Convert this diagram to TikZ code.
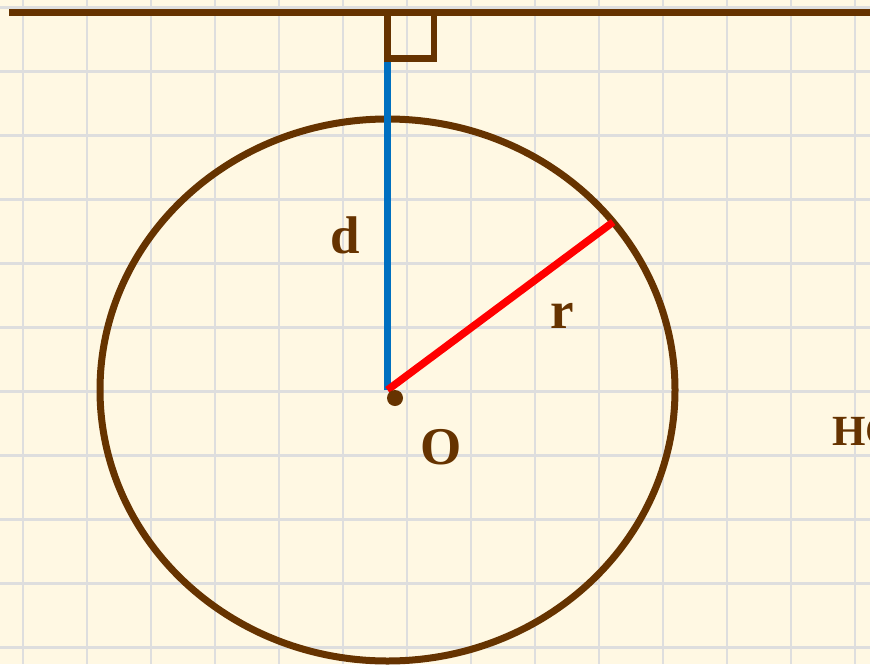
\documentclass[tikz,border=0pt]{standalone}
\usepackage{fontspec}
\setmainfont{Liberation Serif}
\usetikzlibrary{calc}
\definecolor{paper}{HTML}{FFF8E3}
\definecolor{gridline}{HTML}{DEDEDE}
\definecolor{brownline}{HTML}{663300}
\definecolor{perpline}{HTML}{0070C0}
\definecolor{radline}{HTML}{FF0000}

\begin{document}
\begin{tikzpicture}[x=1pt,y=-1pt]
\fill[paper] (0,0) rectangle (870,664);
\useasboundingbox (0,0) rectangle (870,664);
% grid
\foreach \gx in {23,87,...,855} \draw[gridline,line width=2.5pt] (\gx,0) -- (\gx,664);
\foreach \gy in {7.5,71.5,...,647.5} \draw[gridline,line width=2.5pt] (0,\gy) -- (870,\gy);
\coordinate (lineL) at (9,12.7);
\coordinate (lineR) at (870,12.7);
\coordinate (O) at (387.5,390);
\coordinate (sqbot) at (387.5,58.5);
\coordinate (rend) at ($(O)+(-38.3:287.5 and 271)$);
 \begin{scope}[every node/.style={text=brownline, font=\bfseries, anchor=base}]
  \node (d) at (345,253) {\fontsize{53}{60}\selectfont d};
  \node (r) at (562,328) {\fontsize{53}{60}\selectfont r};
  \node (Olabel) at (441,464) {\fontsize{53}{60}\selectfont O};
  \node[anchor=base west, inner sep=0pt] (hc) at (832,445) {\fontsize{43}{50}\selectfont HC};
 \end{scope}
  \draw[brownline, line width=7pt] (O) ellipse [x radius=287.5pt, y radius=271pt];
  \path [-, draw=perpline, line width=7.5pt] (O) edge (sqbot);
  \path [-, draw=radline, line width=7.5pt] (O) edge (rend);
  \draw[brownline, line width=7pt] (lineL) -- (lineR);
  \draw[brownline, line width=6.5pt] (sqbot) rectangle (434,12.7);
  \node[circle, fill=brownline, inner sep=0pt, minimum size=16pt] (dot) at (395,398) {};
 \end{tikzpicture}
\end{document}
